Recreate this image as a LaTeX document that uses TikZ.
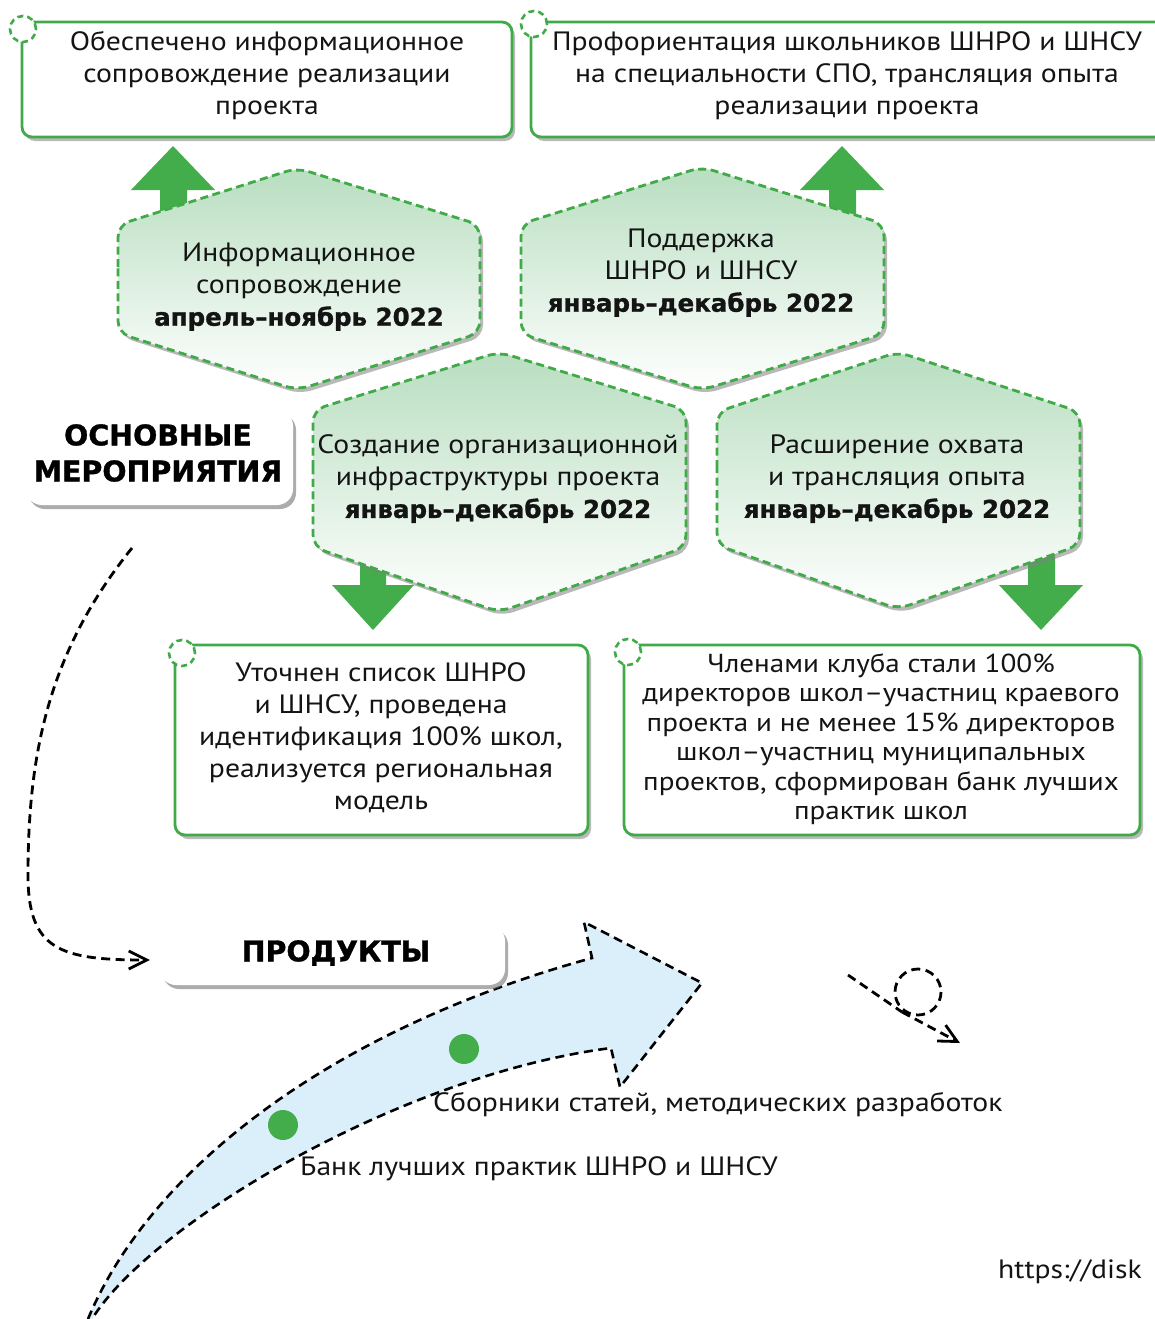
\documentclass[tikz,border=0pt]{standalone}
\usepackage{fontspec}
\setmainfont{PT Sans}[FakeStretch=1.12]
\newfontfamily\heavy{DejaVu Sans}[BoldFeatures={FakeBold=1.2}]
\usetikzlibrary{shadows,arrows.meta,calc}
\definecolor{gborder}{RGB}{64,170,72}
\definecolor{garrow}{RGB}{68,173,75}
\definecolor{hexgreen}{RGB}{184,222,192}
\definecolor{skyblue}{RGB}{219,239,251}
\definecolor{ink}{RGB}{20,20,20}
\tikzset{
  resbox/.style={draw=gborder, line width=2.8pt, rounded corners=10pt, fill=white,
    drop shadow={shadow xshift=3pt, shadow yshift=-4pt, opacity=0.55}},
  whitebox/.style={fill=white, rounded corners=16pt,
    drop shadow={shadow xshift=3pt, shadow yshift=-4pt, opacity=0.65}},
  cornerdot/.style={circle, draw=gborder, line width=2.6pt, dash pattern=on 6pt off 4pt,
    fill=white, minimum size=26pt, inner sep=0pt},
  hexa/.style={draw=gborder, line width=2.8pt, dash pattern=on 8pt off 4.5pt, rounded corners=12pt,
    top color=hexgreen, bottom color=white,
    drop shadow={shadow xshift=3pt, shadow yshift=-4pt, opacity=0.55}},
  blockarrow/.style={fill=garrow},
  txt/.style={font=\fontsize{26.5}{32}\selectfont, align=center, inner sep=0pt, text=ink},
  smalltxt/.style={font=\fontsize{26}{29.5}\selectfont, align=center, inner sep=0pt, text=ink},
  headtxt/.style={font=\heavy\bfseries\fontsize{28.5}{36}\selectfont, align=center, inner sep=0pt, text=black},
  flowline/.style={draw=black, line width=2.8pt, dash pattern=on 9pt off 5.5pt},
  flowtip/.style={-{Straight Barb[length=18pt, width=18pt, line width=2.8pt]}},
  prodtxt/.style={font=\fontsize{26.5}{30}\selectfont, inner sep=0pt, text=ink, anchor=west},
  dot/.style={circle, fill=garrow, minimum size=30pt, inner sep=0pt}
}
\newcommand{\datefont}{\heavy\bfseries\fontsize{24.5}{32}\selectfont}
\begin{document}
\begin{tikzpicture}[x=1pt, y=-1pt]
\clip (0,0) rectangle (1155,1319);
\fill[white] (0,0) rectangle (1155,1319);

% top result boxes
\node[resbox, minimum width=490pt, minimum height=115pt] (res1) at (267,79.5) {};
\node[cornerdot] (c1) at (23,29) {};
\node[txt] (res1t) at (267,76) {Обеспечено информационное\\сопровождение реализации\\проекта};

\node[resbox, minimum width=634pt, minimum height=115pt] (res2) at (848,79.5) {};
\node[cornerdot] (c2) at (534,24) {};
\node[txt] (res2t) at (847,76) {Профориентация школьников ШНРО и ШНСУ\\на специальности СПО, трансляция опыта\\реализации проекта};

% up arrows
\fill[blockarrow] (131,190) -- (173,146) -- (215,190) -- (187,190) -- (187,232) -- (160,232) -- (160,190) -- cycle;
\fill[blockarrow] (800,190) -- (842,146) -- (884,190) -- (856,190) -- (856,232) -- (829,232) -- (829,190) -- cycle;

% hexagons row 1
\path[hexa] (118,279) -- (118,225) -- (297,168) -- (480,225) -- (480,333) -- (297,390) -- (118,333) -- cycle;
\path[hexa] (521,279) -- (521,224) -- (702,167) -- (884,224) -- (884,334) -- (702,390) -- (521,334) -- cycle;

% down arrows
\fill[blockarrow] (360,540) -- (386,540) -- (386,585) -- (414,585) -- (373,630) -- (332,585) -- (360,585) -- cycle;
\fill[blockarrow] (1028,540) -- (1055,540) -- (1055,585) -- (1083,585) -- (1041,630) -- (999,585) -- (1028,585) -- cycle;

% hexagons row 2
\path[hexa] (313,480) -- (313,410) -- (499,352) -- (686,410) -- (686,547) -- (499,612) -- (313,547) -- cycle;
\path[hexa] (717,480) -- (717,412) -- (898,352) -- (1080,412) -- (1080,545) -- (898,609) -- (717,545) -- cycle;

\node[txt] (h1) at (299,287) {Информационное\\сопровождение\\{\datefont апрель–ноябрь 2022}};
\node[txt] (h2) at (701,273) {Поддержка\\ШНРО и ШНСУ\\{\datefont январь–декабрь 2022}};
\node[txt] (h3) at (498,479) {Создание организационной\\инфраструктуры проекта\\{\datefont январь–декабрь 2022}};
\node[txt] (h4) at (897,479) {Расширение охвата\\и трансляция опыта\\{\datefont январь–декабрь 2022}};

% main activities label
\node[whitebox, minimum width=267pt, minimum height=95pt] (mainbox) at (159.5,457.5) {};
\node[headtxt] (maint) at (158,453) {ОСНОВНЫЕ\\МЕРОПРИЯТИЯ};

% bottom result boxes
\node[resbox, minimum width=413pt, minimum height=190pt] (res3) at (381.5,740) {};
\node[cornerdot] (c3) at (182,653) {};
\node[txt] (res3t) at (381,738) {Уточнен список ШНРО\\и ШНСУ, проведена\\идентификация 100\% школ,\\реализуется региональная\\модель};

\node[resbox, minimum width=516pt, minimum height=190pt] (res4) at (882,740) {};
\node[cornerdot] (c4) at (628,652) {};
\node[smalltxt] (res4t) at (881,739) {Членами клуба стали 100\%\\директоров школ–участниц краевого\\проекта и не менее 15\% директоров\\школ–участниц муниципальных\\проектов, сформирован банк лучших\\практик школ};

% products
\path[fill=skyblue, draw=black, line width=2.6pt, dash pattern=on 9pt off 5.5pt]
  (88,1319) .. controls (150,1170) and (330,1030) .. (592,958)
  -- (584,922) -- (702,983) -- (620,1087) -- (611,1048)
  .. controls (400,1075) and (150,1225) .. (92,1319);
\node[dot] (d1) at (464,1049) {};
\node[dot] (d2) at (283,1125) {};

\node[whitebox, minimum width=345pt, minimum height=60pt] (prodbox) at (332.5,955) {};
\node[headtxt] (prodt) at (336,953) {ПРОДУКТЫ};

\coordinate (flowstart) at (132,548);
\draw[flowline, flowtip] (flowstart) .. controls (50,650) and (28,750) .. (28,875) .. controls (28,950) and (60,960) .. ($(prodbox.west)+(-10,5)$);

\node[prodtxt] (p1) at (433,1105) {Сборники статей, методических разработок};
\node[prodtxt] (p2) at (300,1169) {Банк лучших практик ШНРО и ШНСУ};
\node[prodtxt] (url) at (998,1272) {https://disk};

% loop squiggle
\coordinate (lp0) at (848,975);
\coordinate (lpx) at (902,1012);
\coordinate (lp1) at (960,1043);
\draw[flowline] (lp0) -- (lpx);
\draw[flowline] (918,992) circle (23);
\draw[flowline, flowtip] (lpx) -- (lp1);
\end{tikzpicture}
\end{document}
